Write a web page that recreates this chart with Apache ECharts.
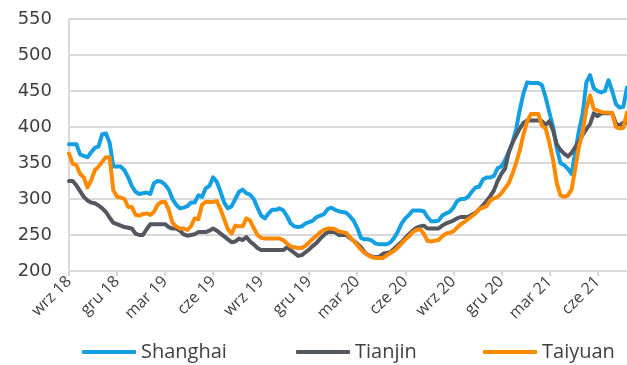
<!DOCTYPE html>
<html>
<head>
<meta charset="utf-8">
<script src="https://cdn.jsdelivr.net/npm/echarts@6/dist/echarts.min.js"></script>
<style>
html,body{margin:0;padding:0;background:#fff;}
#chart{width:627px;height:365px;}
</style>
</head>
<body>
<div id="chart"></div>
<script>
// Quarter tick labels (one every 13 weeks)
const tickLabels = ['wrz 18','gru 18','mar 19','cze 19','wrz 19','gru 19','mar 20','cze 20','wrz 20','gru 20','mar 21','cze 21'];
const seriesNames = ['Shanghai','Tianjin','Taiyuan'];

const shanghai = [376,376,376,362,360,358,365,371,373,390,391,378,345,345,345,340,330,318,310,307,
308,309,307,322,325,324,320,313,300,292,287,288,290,295,295,305,303,315,318,330,
324,310,295,287,290,300,310,313,308,306,300,288,277,273,280,285,285,287,284,276,
266,262,261,262,266,268,270,275,277,279,286,288,285,283,282,281,276,270,260,246,
244,244,242,238,237,237,237,240,246,255,266,273,278,284,284,284,283,275,269,269,
270,277,280,282,288,297,300,300,303,310,316,317,327,330,330,332,343,345,354,365,
378,397,424,447,462,461,461,461,458,441,420,400,370,350,347,342,335,365,395,418,
462,472,454,450,448,450,465,450,432,427,428,455];

const tianjin = [325,325,319,311,303,298,295,294,291,287,282,274,267,265,263,261,260,259,252,250,
250,258,265,265,265,265,265,261,259,259,256,251,249,250,251,254,254,254,256,259,
256,252,248,244,240,241,245,243,247,241,237,232,229,229,229,229,229,229,229,233,
229,225,221,222,226,230,235,239,245,250,254,254,254,250,250,250,246,242,238,233,
226,222,220,219,220,224,225,226,231,236,240,246,251,256,260,262,263,259,259,259,
259,263,266,268,270,273,275,275,275,278,281,286,291,297,304,312,325,335,342,365,
378,388,398,406,409,409,409,409,408,403,408,395,376,368,363,359,364,372,380,389,
397,404,419,415,419,419,419,419,405,402,406,405];

const taiyuan = [363,349,347,335,330,316,326,340,345,352,358,358,312,303,302,300,289,289,278,277,
279,280,278,282,292,296,296,285,267,262,259,259,257,262,273,272,292,296,296,296,
297,286,272,258,252,263,262,262,273,270,260,250,246,245,245,245,245,245,243,238,
234,233,232,232,235,240,245,249,254,257,259,259,258,255,254,253,247,242,236,230,
225,222,219,218,218,218,222,225,228,233,238,244,248,254,257,258,252,242,241,242,
243,248,252,253,255,260,265,268,272,276,280,286,288,290,298,301,303,308,315,322,
335,350,368,390,408,418,418,418,402,398,378,354,322,305,303,305,313,342,373,392,
425,444,425,423,421,420,420,419,400,398,399,420];

const colors = ['#139fe1','#54575f','#ff8a00'];
const weeks = shanghai.map((_, i) => String(i));
const textColor = '#404040';
const gridColor = '#d9d9d9';
const legendLefts = [77, 291, 478];

const chart = echarts.init(document.getElementById('chart'), null, {renderer: 'canvas'});
const data = [shanghai, tianjin, taiyuan];
chart.setOption({
  animation: false,
  color: colors,
  grid: {left: 69, right: 0, top: 19, bottom: 94, containLabel: false},
  legend: seriesNames.map((name, k) => ({
    left: legendLefts[k], top: 337,
    itemWidth: 54, itemHeight: 4, itemGap: 0,
    icon: 'roundRect',
    textStyle: {fontFamily: 'Open Sans', fontSize: 20, color: textColor},
    data: [name]
  })),
  xAxis: {
    type: 'category',
    data: weeks,
    boundaryGap: false,
    axisLine: {show: true, lineStyle: {color: gridColor, width: 2}},
    axisTick: {show: true, length: 5, interval: (i) => i % 13 === 0, lineStyle: {color: gridColor, width: 2}},
    axisLabel: {
      interval: (i) => i % 13 === 0,
      rotate: 45,
      margin: 8,
      fontFamily: 'Open Sans',
      fontSize: 16,
      color: textColor,
      formatter: (v, i) => tickLabels[Math.round(i / 13)] || ''
    },
    splitLine: {show: false}
  },
  yAxis: {
    type: 'value',
    min: 200, max: 550, interval: 50,
    axisLine: {show: true, lineStyle: {color: gridColor, width: 2}},
    axisTick: {show: false},
    axisLabel: {margin: 17, fontFamily: 'DejaVu Sans', fontSize: 18, color: textColor},
    splitLine: {show: true, lineStyle: {color: gridColor, width: 2}}
  },
  series: seriesNames.map((name, k) => ({
    name: name,
    type: 'line',
    data: data[k],
    showSymbol: false,
    symbol: 'none',
    smooth: false,
    lineStyle: {width: 4, color: colors[k], join: 'round', cap: 'round'},
    itemStyle: {color: colors[k]}
  }))
});
</script>
</body>
</html>
